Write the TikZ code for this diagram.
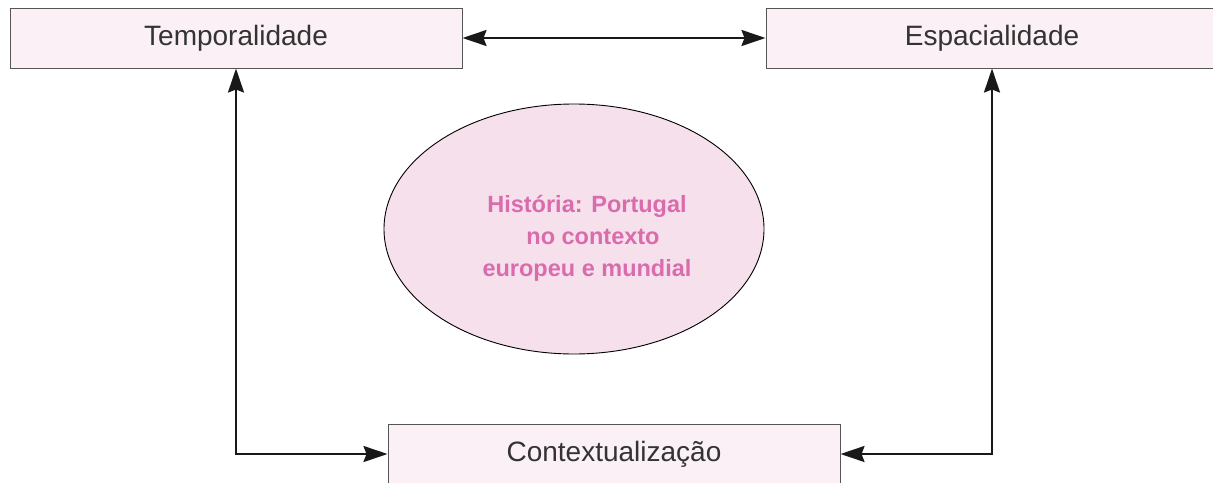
\documentclass[tikz,border=0pt]{standalone}
\usepackage{fontspec}
\setmainfont{Liberation Sans}
\usetikzlibrary{shapes.geometric,arrows.meta}
\definecolor{boxfill}{HTML}{FAF0F5}
\definecolor{ellfill}{HTML}{F6E0EC}
\definecolor{pinktext}{HTML}{DA6BAC}
\definecolor{boxtext}{HTML}{333333}
\definecolor{boxline}{HTML}{555555}
\tikzset{
  conceptbox/.style={draw=boxline, line width=1pt, fill=boxfill, minimum width=452pt, minimum height=60pt, inner sep=0pt, text=boxtext, font=\fontsize{28}{32}\selectfont},
  link/.style={line width=2.2pt, draw=black!90, {Stealth[length=24pt,width=16pt,inset=3pt]}-{Stealth[length=24pt,width=16pt,inset=3pt]}},
}
\begin{document}
\begin{tikzpicture}[x=1pt,y=-1pt]
\useasboundingbox (0,0) rectangle (1213,482);
\clip (0,0) rectangle (1213,482);
\node[conceptbox] (temp) at (236,38) {Temporalidade};
\node[conceptbox] (esp) at (992,38) {Espacialidade};
\node[conceptbox] (ctx) at (614,454) {Contextualização};
\node[ellipse, draw=black, line width=0.9pt, fill=ellfill, minimum width=380pt, minimum height=250pt, inner sep=0pt] (hist) at (574,229) {};
\node[text=pinktext, font=\bfseries\fontsize{23.5}{32}\selectfont, align=center] (htext) at (587,238) {História: Portugal\\ \hspace*{12pt}no contexto\\ europeu e mundial};
\draw[link] (temp.east) -- (esp.west);
\draw[link] (temp.south) -- (temp.south |- ctx.west) -- (ctx.west);
\draw[link] (esp.south) -- (esp.south |- ctx.east) -- (ctx.east);
\end{tikzpicture}
\end{document}
